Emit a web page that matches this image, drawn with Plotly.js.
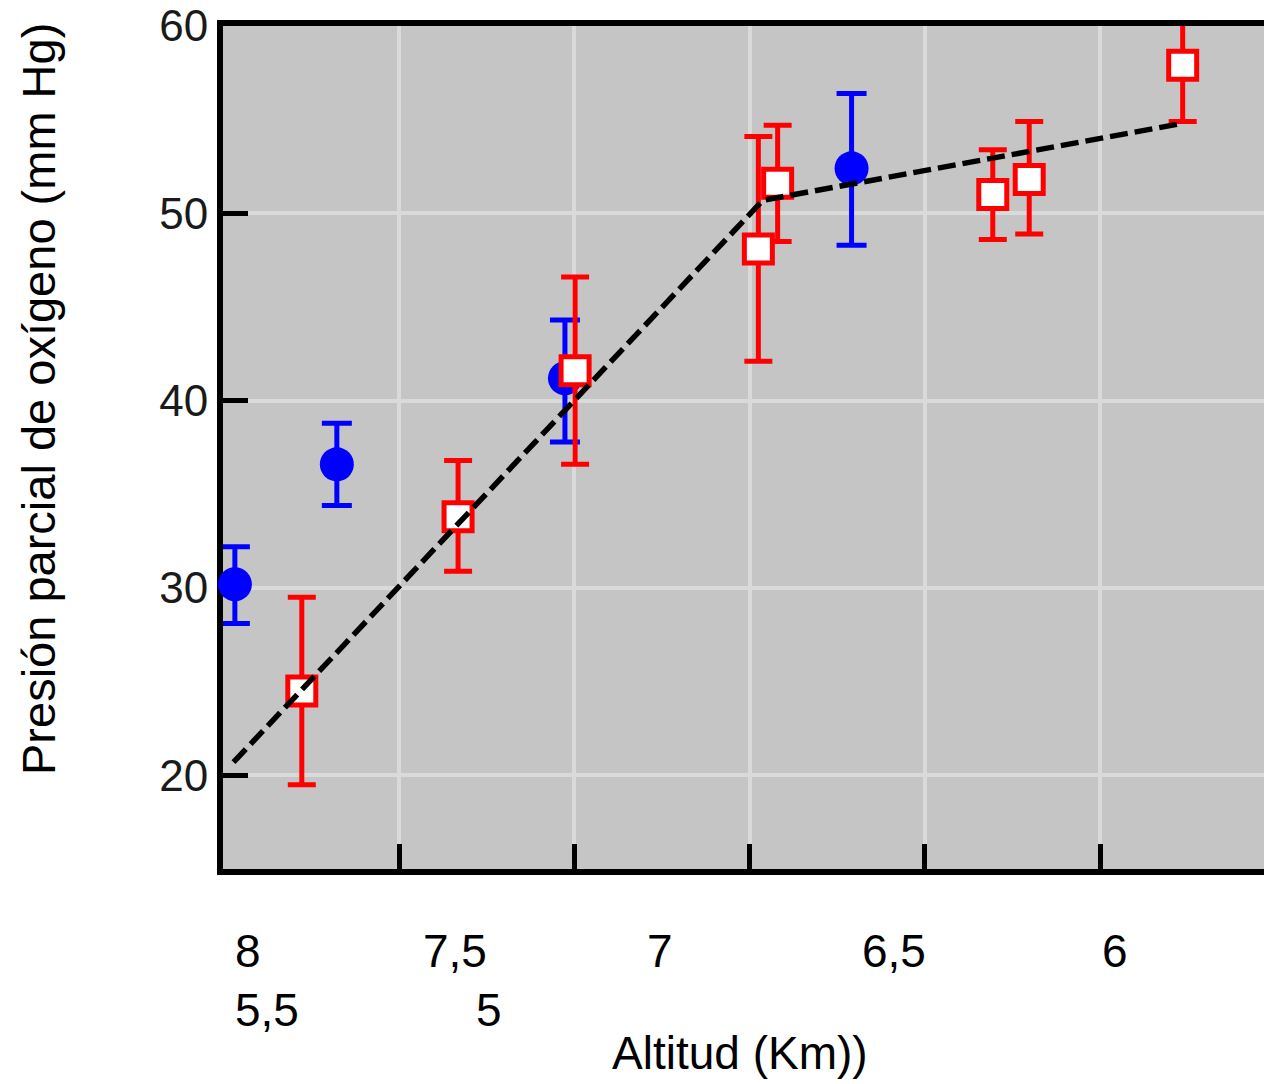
<!DOCTYPE html>
<html>
<head>
<meta charset="utf-8">
<script src="https://cdn.plot.ly/plotly-3.0.1.min.js"></script>
<style>
html,body{margin:0;padding:0;overflow:hidden;background:#ffffff;}
#chart{width:1300px;height:1084px;}
</style>
</head>
<body>
<div id="chart"></div>
<script>
// ---------------- DATA ----------------
const blueAltitude  = [7.969, 7.678, 7.027, 6.209];
const bluePressure  = [30.2, 36.6, 41.2, 52.4];
const blueErrPlus   = [2.0, 2.2, 3.1, 4.0];
const blueErrMinus  = [2.1, 2.2, 3.4, 4.1];

const redAltitude   = [7.778, 7.332, 6.998, 6.475, 6.420, 5.806, 5.702, 5.264];
const redPressure   = [24.5, 33.8, 41.6, 48.1, 51.6, 51.0, 51.8, 57.9];
const redErrPlus    = [5.0, 3.0, 5.0, 6.0, 3.1, 2.4, 3.1, 3.0];
const redErrMinus   = [5.0, 2.9, 5.0, 6.0, 3.1, 2.4, 2.9, 3.0];

const fitAltitude   = [7.973, 6.462, 5.266];
const fitPressure   = [20.7, 50.7, 54.8];

const yTickValues   = [20, 30, 40, 50, 60];
const xTickValues   = [7.5, 7, 6.5, 6, 5.5, 5];
const xLabelsRow1   = ['8', '7,5', '7', '6,5', '6'];
const xLabelsRow2   = ['5,5', '5'];
const xTitleText    = 'Altitud (Km))';
const yTitleText    = 'Presión parcial de oxígeno (mm Hg)';

// ---------------- LAYOUT CONSTANTS ----------------
const FONT = 'Liberation Sans, Arial, Helvetica, sans-serif';
const W = 1300, H = 1084;
const M = {l: 223, r: 0, t: 26, b: 215};
const plotW = W - M.l - M.r, plotH = H - M.t - M.b;
const px2x = p => (p - M.l) / plotW;
const px2y = p => (H - M.b - p) / plotH;

const row1X = [247.5, 455, 660, 893.5, 1114.5], row1Y = 950.5;
const row2X = [266.5, 488.5], row2Y = 1009.5;

const annotations = [];
xLabelsRow1.forEach((t, i) => annotations.push({
  text: t, xref: 'paper', yref: 'paper', x: px2x(row1X[i]), y: px2y(row1Y),
  xanchor: 'center', yanchor: 'middle', showarrow: false,
  font: {family: FONT, size: 46, color: '#000'}
}));
xLabelsRow2.forEach((t, i) => annotations.push({
  text: t, xref: 'paper', yref: 'paper', x: px2x(row2X[i]), y: px2y(row2Y),
  xanchor: 'center', yanchor: 'middle', showarrow: false,
  font: {family: FONT, size: 46, color: '#000'}
}));
annotations.push({
  text: xTitleText, xref: 'paper', yref: 'paper', x: px2x(740), y: px2y(1053),
  xanchor: 'center', yanchor: 'middle', showarrow: false,
  font: {family: FONT, size: 46, color: '#000'}
});
annotations.push({
  text: yTitleText, xref: 'paper', yref: 'paper', x: px2x(38), y: px2y(399),
  xanchor: 'center', yanchor: 'middle', showarrow: false, textangle: -90,
  font: {family: FONT, size: 47, color: '#000'}
});

const traces = [
  {
    type: 'scatter', mode: 'markers', name: 'blue',
    x: blueAltitude, y: bluePressure,
    marker: {symbol: 'circle', size: 34, color: '#0000ff', line: {width: 0}},
    error_y: {type: 'data', symmetric: false, array: blueErrPlus, arrayminus: blueErrMinus,
              color: '#0000ff', thickness: 5, width: 15},
    cliponaxis: false
  },
  {
    type: 'scatter', mode: 'markers', name: 'red',
    x: redAltitude, y: redPressure,
    marker: {symbol: 'square', size: 28, color: '#ffffff', line: {width: 5, color: '#ff0000'}},
    error_y: {type: 'data', symmetric: false, array: redErrPlus, arrayminus: redErrMinus,
              color: '#ff0000', thickness: 5, width: 14},
    cliponaxis: false
  },
  {
    type: 'scatter', mode: 'lines', name: 'fit',
    x: fitAltitude, y: fitPressure,
    line: {color: '#000000', width: 5.5, dash: '18px,7px'}
  }
];

const layout = {
  width: W, height: H,
  margin: M,
  paper_bgcolor: '#ffffff',
  plot_bgcolor: '#c5c5c5',
  showlegend: false,
  font: {family: FONT, color: '#000'},
  xaxis: {
    range: [8.0029, 4.9292],
    tickmode: 'array', tickvals: xTickValues,
    showticklabels: false,
    ticks: 'inside', ticklen: 25, tickwidth: 5, tickcolor: '#000',
    showgrid: true, gridcolor: '#dadada', gridwidth: 4,
    showline: true, linecolor: '#000', linewidth: 6, mirror: true,
    zeroline: false, layer: 'below traces'
  },
  yaxis: {
    range: [15, 60],
    tickmode: 'array', tickvals: yTickValues,
    ticks: 'inside', ticklen: 25, tickwidth: 5, tickcolor: '#000',
    tickfont: {family: FONT, size: 44, color: '#1a1a1a'},
    showgrid: true, gridcolor: '#dadada', gridwidth: 4,
    showline: true, linecolor: '#000', linewidth: 6, mirror: true,
    zeroline: false, layer: 'below traces'
  },
  annotations: annotations
};

Plotly.newPlot('chart', traces, layout, {displayModeBar: false, staticPlot: true});
</script>
</body>
</html>
